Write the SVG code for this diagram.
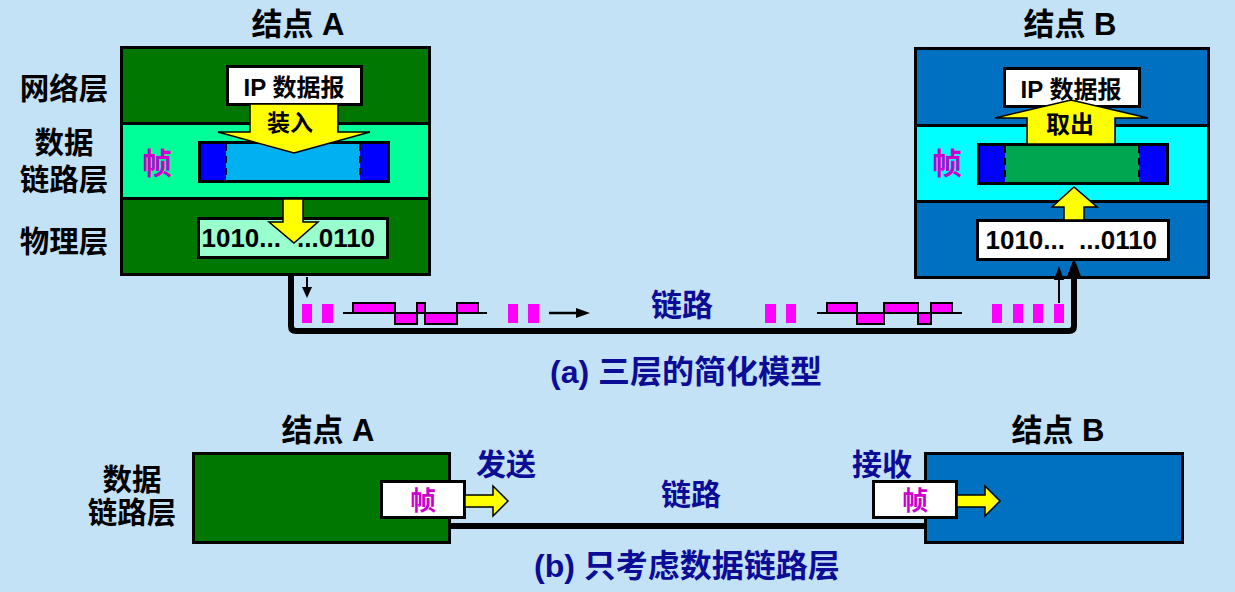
<svg xmlns="http://www.w3.org/2000/svg" width="1235" height="592" viewBox="0 0 1235 592">
<style>
.t{font-family:"Liberation Sans","Noto Sans CJK SC",sans-serif;font-weight:bold;text-anchor:middle}
.s{text-anchor:start}
.e{text-anchor:end}
.k{fill:#000}
.db{fill:#0C0C96}
.mg{fill:#CC00CC}
.ln{stroke:#000;stroke-width:3}
.ya{fill:#FFFF00;stroke:#000;stroke-width:1.5;stroke-linejoin:miter}
.pu{fill:#FF00FF}
.wv{fill:#FF00FF;stroke:#000;stroke-width:2}
.dash{stroke:#000;stroke-width:2;stroke-dasharray:7 5}
</style>
<rect x="0" y="0" width="1235" height="592" fill="#C4E2F6"/>

<!-- labels (a) -->
<g id="labels-a">
<text class="t k" x="298" y="35" font-size="31">结点 A</text>
<text class="t k" x="1070" y="35" font-size="31">结点 B</text>
<text class="t k" x="64" y="99" font-size="29.5">网络层</text>
<text class="t k" x="64" y="153" font-size="29.5">数据</text>
<text class="t k" x="64" y="190" font-size="29.5">链路层</text>
<text class="t k" x="64" y="252" font-size="29.5">物理层</text>
<text class="t db" x="682" y="316" font-size="31">链路</text>
<text class="t db" x="686" y="383" font-size="32">(a) 三层的简化模型</text>
</g>

<!-- node A (a) -->
<g id="nodeA">
<rect x="121.5" y="47.5" width="308" height="76" fill="#007800" class="ln"/>
<rect x="121.5" y="123.5" width="308" height="75" fill="#00FF99" class="ln"/>
<rect x="121.5" y="198.5" width="308" height="76" fill="#007800" class="ln"/>
<rect x="227.5" y="66.5" width="134" height="38" fill="#FFFFFF" class="ln"/>
<text class="t k" x="294" y="96" font-size="24">IP 数据报</text>
<rect x="199.5" y="142.5" width="189" height="39" fill="#0000FF" class="ln"/>
<rect x="226" y="144" width="134" height="36" fill="#00B0F0"/>
<line x1="226" y1="144" x2="226" y2="180" class="dash"/>
<line x1="360" y1="144" x2="360" y2="180" class="dash"/>
<text class="t mg" x="157" y="174" font-size="30">帧</text>
<polygon class="ya" points="250,104 338,104 338,132 370,132 294,153 218,132 250,132"/>
<text class="t k" x="290" y="131" font-size="23">装入</text>
<rect x="198.5" y="218.5" width="189" height="39" fill="#99FFCC" class="ln"/>
<polygon class="ya" points="283,199 303,199 303,222 318,222 294,243 269,222 283,222"/>
<text class="t k e" x="281" y="247" font-size="26">1010...</text>
<text class="t k s" x="297" y="247" font-size="26">...0110</text>
</g>

<!-- node B (a) -->
<g id="nodeB">
<rect x="915.5" y="48.5" width="293" height="77" fill="#0070C0" class="ln"/>
<rect x="915.5" y="125.5" width="293" height="76" fill="#00FFFF" class="ln"/>
<rect x="915.5" y="201.5" width="293" height="76" fill="#0070C0" class="ln"/>
<rect x="1004.5" y="68.5" width="135" height="38" fill="#FFFFFF" class="ln"/>
<text class="t k" x="1071" y="98" font-size="24">IP 数据报</text>
<rect x="978.5" y="144.5" width="189" height="39" fill="#0000FF" class="ln"/>
<rect x="1005" y="146" width="134" height="36" fill="#00A650"/>
<line x1="1005" y1="146" x2="1005" y2="182" class="dash"/>
<line x1="1139" y1="146" x2="1139" y2="182" class="dash"/>
<text class="t mg" x="947" y="174" font-size="30">帧</text>
<polygon class="ya" points="1027,144 1115,144 1115,118 1148,118 1071,100 995,118 1027,118"/>
<text class="t k" x="1070" y="133" font-size="24">取出</text>
<rect x="977.5" y="220.5" width="191" height="39" fill="#FFFFFF" class="ln"/>
<polygon class="ya" points="1064,220 1084,220 1084,207 1097,207 1074,187 1052,207 1064,207"/>
<text class="t k e" x="1065" y="249" font-size="26">1010...</text>
<text class="t k s" x="1079" y="249" font-size="26">...0110</text>
</g>

<!-- connectors (a) -->
<g id="connectors-a">
<path d="M291,276 L291,326 Q291,331 296,331 L1069,331 Q1074,331 1074,326 L1074,276" fill="none" stroke="#000" stroke-width="6"/>
<polygon points="1074,258 1066,279 1082,279" fill="#000"/>
<line x1="307" y1="277" x2="307" y2="290" stroke="#000" stroke-width="2"/>
<polygon points="302,287 312,287 307,298" fill="#000"/>
<line x1="1059" y1="303" x2="1059" y2="278" stroke="#000" stroke-width="2"/>
<polygon points="1054,280 1064,280 1059,266" fill="#000"/>
<line x1="549" y1="313" x2="578" y2="313" stroke="#000" stroke-width="2.5"/>
<polygon points="576,308 590,313 576,318" fill="#000"/>
</g>

<!-- signal pulses and waveforms -->
<g id="signals">
<rect class="pu" x="302" y="304" width="10" height="19"/>
<rect class="pu" x="322" y="304" width="11" height="19"/>
<rect class="pu" x="508" y="304" width="10" height="19"/>
<rect class="pu" x="528" y="304" width="11" height="19"/>
<rect class="pu" x="765" y="304" width="11" height="19"/>
<rect class="pu" x="786" y="304" width="10" height="19"/>
<rect class="pu" x="992" y="304" width="10" height="19"/>
<rect class="pu" x="1013" y="304" width="10" height="19"/>
<rect class="pu" x="1033" y="304" width="10" height="19"/>
<rect class="pu" x="1054" y="304" width="10" height="19"/>
<line x1="343" y1="313" x2="487" y2="313" stroke="#000" stroke-width="2"/>
<rect class="wv" x="353" y="303" width="42" height="10"/>
<rect class="wv" x="395" y="313" width="22" height="11"/>
<rect class="wv" x="417" y="303" width="8" height="10"/>
<rect class="wv" x="425" y="313" width="32" height="11"/>
<rect class="wv" x="457" y="303" width="21" height="10"/>
<line x1="817" y1="313" x2="962" y2="313" stroke="#000" stroke-width="2"/>
<rect class="wv" x="827" y="303" width="30" height="10"/>
<rect class="wv" x="857" y="313" width="27" height="11"/>
<rect class="wv" x="884" y="303" width="34" height="10"/>
<rect class="wv" x="918" y="313" width="13" height="11"/>
<rect class="wv" x="931" y="303" width="21" height="10"/>
</g>

<!-- part (b) -->
<g id="labels-b">
<text class="t k" x="328" y="441" font-size="31">结点 A</text>
<text class="t k" x="1058" y="441" font-size="31">结点 B</text>
<text class="t k" x="132" y="490" font-size="29.5">数据</text>
<text class="t k" x="132" y="523" font-size="29.5">链路层</text>
<text class="t db" x="506" y="475" font-size="30">发送</text>
<text class="t db" x="882" y="475" font-size="30">接收</text>
<text class="t db" x="691" y="505" font-size="30">链路</text>
<text class="t db" x="687" y="577" font-size="32">(b) 只考虑数据链路层</text>
</g>

<g id="connectors-b">
<line x1="450" y1="526" x2="926" y2="526" stroke="#000" stroke-width="6"/>
</g>

<g id="nodeA-b">
<rect x="193.5" y="453.5" width="256" height="89" fill="#007800" class="ln"/>
<rect x="381.5" y="481.5" width="83" height="36" fill="#FFFFFF" class="ln"/>
<text class="t mg" x="423" y="510" font-size="26">帧</text>
<polygon class="ya" stroke-width="2" points="465,495 493,495 493,486 508,501 493,516 493,507 465,507"/>
</g>

<g id="nodeB-b">
<rect x="925.5" y="453.5" width="257" height="89" fill="#0070C0" class="ln"/>
<rect x="873.5" y="481.5" width="83" height="36" fill="#FFFFFF" class="ln"/>
<text class="t mg" x="915" y="510" font-size="26">帧</text>
<polygon class="ya" stroke-width="2" points="957,495 985,495 985,486 1000,501 985,516 985,507 957,507"/>
</g>
</svg>
